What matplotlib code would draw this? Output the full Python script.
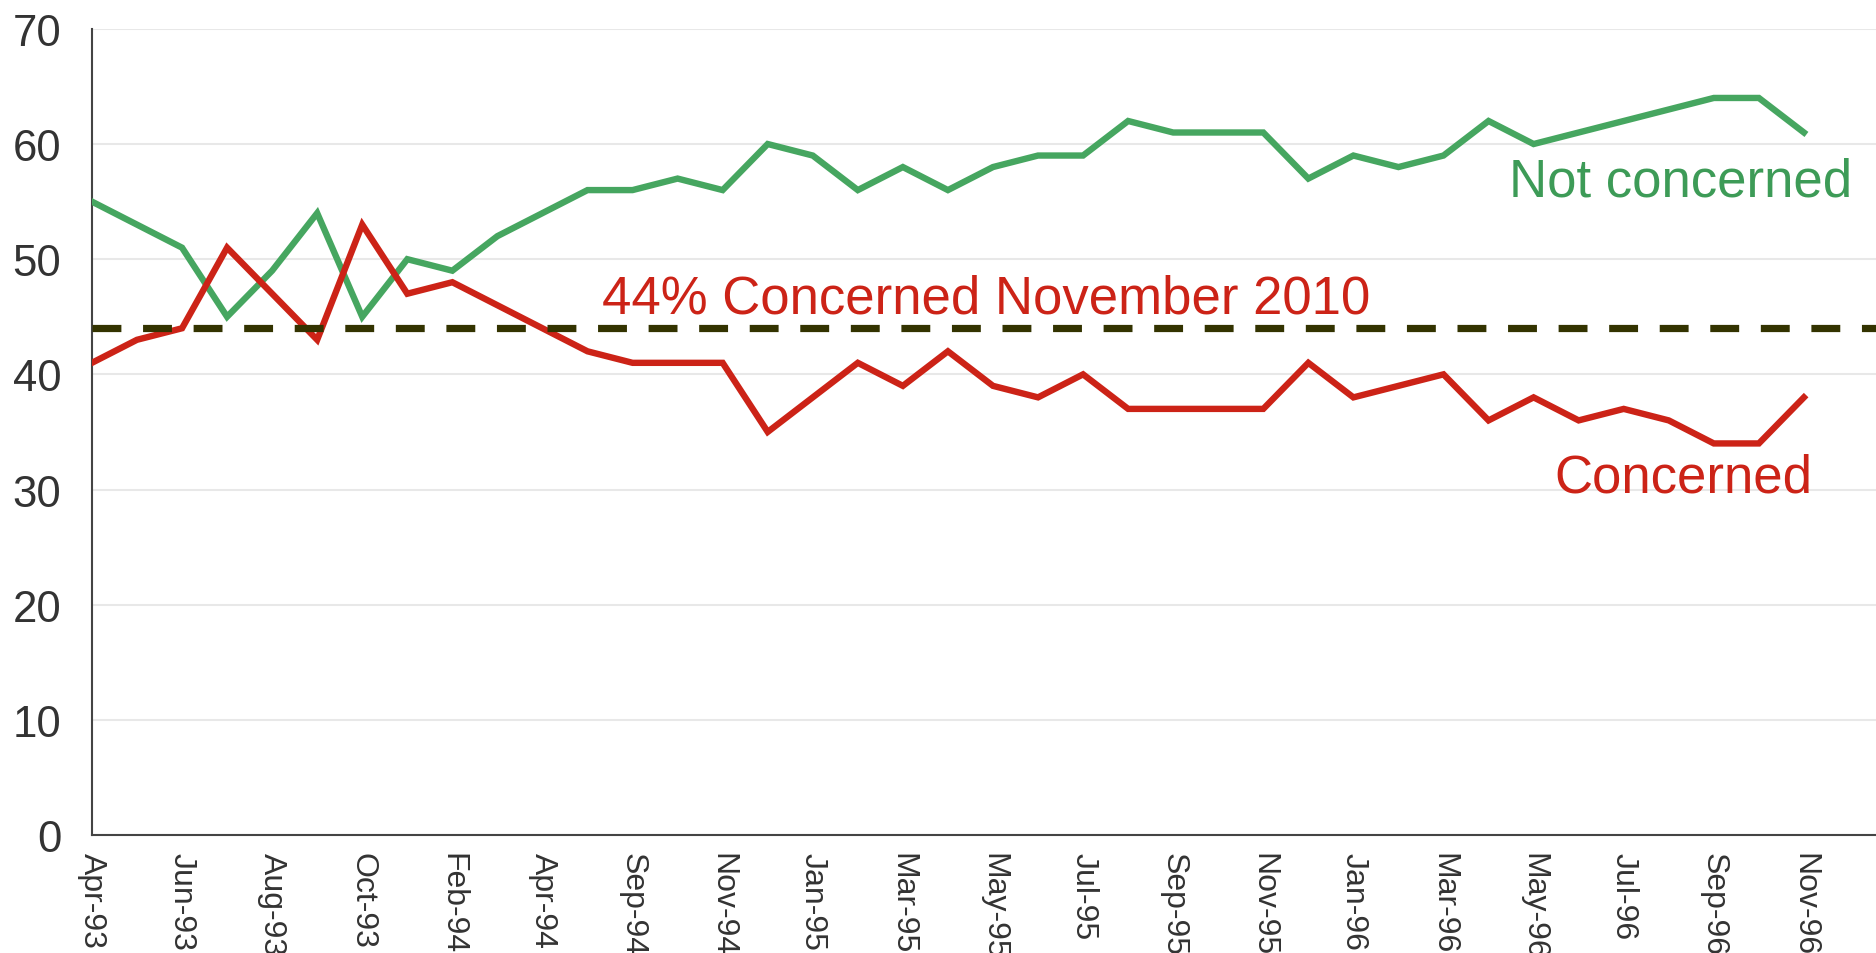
import matplotlib
matplotlib.use("Agg")
import matplotlib.pyplot as plt
import numpy as np

plt.rcParams["font.family"] = ["Liberation Sans", "DejaVu Sans"]

# survey dates, one per poll
months = [
    "Apr-93", "May-93", "Jun-93", "Jul-93", "Aug-93", "Sep-93", "Oct-93", "Jan-94",
    "Feb-94", "Mar-94", "Apr-94", "Jul-94", "Sep-94", "Oct-94", "Nov-94", "Dec-94",
    "Jan-95", "Feb-95", "Mar-95", "Apr-95", "May-95", "Jun-95", "Jul-95", "Aug-95",
    "Sep-95", "Oct-95", "Nov-95", "Dec-95", "Jan-96", "Feb-96", "Mar-96", "Apr-96",
    "May-96", "Jun-96", "Jul-96", "Aug-96", "Sep-96", "Oct-96", "Nov-96",
]

not_concerned = [
    55, 53, 51, 45, 49, 54, 45, 50, 49, 52, 54, 56, 56, 57, 56, 60, 59, 56, 58, 56,
    58, 59, 59, 62, 61, 61, 61, 57, 59, 58, 59, 62, 60, 61, 62, 63, 64, 64, 61,
]

concerned = [
    41, 43, 44, 51, 47, 43, 53, 47, 48, 46, 44, 42, 41, 41, 41, 35, 38, 41, 39, 42,
    39, 38, 40, 37, 37, 37, 37, 41, 38, 39, 40, 36, 38, 36, 37, 36, 34, 34, 38,
]

concerned_nov_2010 = 44

green = "#46A660"
green_text = "#3D9B57"
red = "#CC2317"
ink = "#333333"

x = np.arange(len(months))

fig = plt.figure(figsize=(18.76, 9.54), dpi=100)
ax = fig.add_axes([0.049, 0.1237, 0.951, 0.845])

ax.plot(x, not_concerned, color=green, lw=4.6, solid_joinstyle="miter", zorder=3)
ax.plot(x, concerned, color=red, lw=4.6, solid_joinstyle="miter", zorder=3)
ax.axhline(concerned_nov_2010, color="#333300", lw=5.2, dashes=(4.0, 3.0), zorder=4)

ax.text(11.33, 45.4, f"{concerned_nov_2010}% Concerned November 2010",
        color=red, fontsize=38, va="baseline", ha="left", zorder=5)
ax.text(39.06, 55.5, "Not concerned", color=green_text, fontsize=38,
        va="baseline", ha="right", zorder=5)
ax.text(32.47, 29.8, "Concerned", color=red, fontsize=38,
        va="baseline", ha="left", zorder=5)

ax.set_xlim(0, 39.6)
ax.set_ylim(0, 70)
ax.set_yticks(np.arange(0, 71, 10))
ax.set_xticks(x[::2])
ax.set_xticklabels(months[::2], rotation=270, ha="center", va="top")

ax.tick_params(axis="y", length=0, pad=22, labelsize=31.5, labelcolor=ink)
ax.tick_params(axis="x", length=0, pad=12, labelsize=23, labelcolor=ink)

ax.grid(axis="y", color="#E8E8E8", lw=1.5, zorder=0)
ax.set_axisbelow(True)
for side in ["top", "right"]:
    ax.spines[side].set_visible(False)
for side in ["left", "bottom"]:
    ax.spines[side].set_color("#444444")
    ax.spines[side].set_linewidth(1.5)

fig.savefig("out.png", dpi=100, facecolor="white")
